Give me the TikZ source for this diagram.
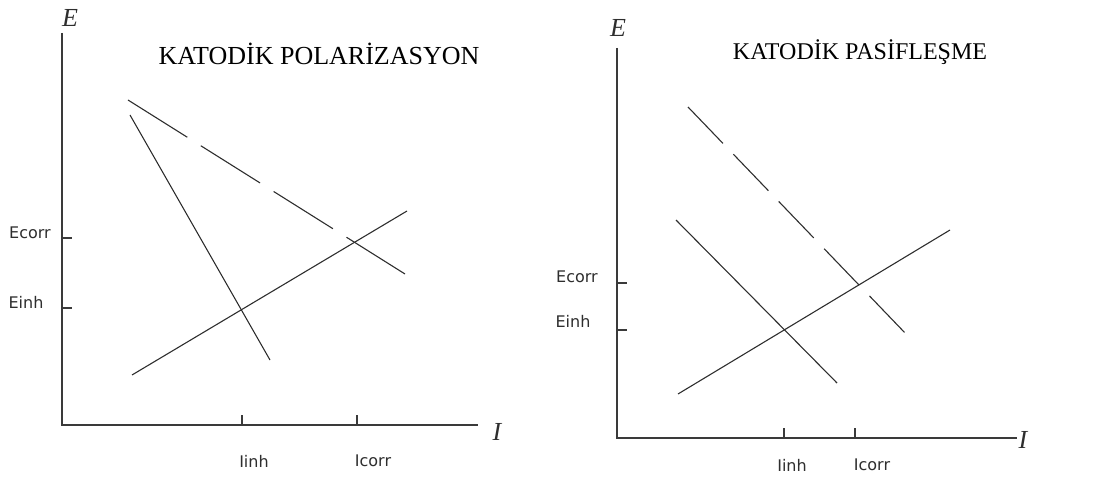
\documentclass[tikz,border=0pt]{standalone}
\usepackage{fontspec}
\setmainfont{Liberation Serif}
\newfontfamily\ticklabelfont{DejaVu Sans}
\usepackage{xcolor}
\usetikzlibrary{positioning}
\definecolor{pencil}{HTML}{2E2E2E}
\definecolor{axisgrey}{HTML}{3A3A3A}

\begin{document}
\begin{tikzpicture}[
  x=1pt, y=-1pt,
  every node/.style={text=black},
  axisline/.style={draw=axisgrey, line width=1.4pt},
  tickmark/.style={draw=axisgrey, line width=1.1pt},
  curve/.style={draw=pencil, line width=1.1pt},
  polcurve/.style={draw=pencil, line width=1.1pt, dash pattern=on 70pt off 16pt},
  pascurve/.style={draw=pencil, line width=1.1pt, dash pattern=on 50.5pt off 15pt},
  plottitle/.style={font=\fontsize{24}{28}\selectfont, inner sep=0pt},
  axislabel/.style={font=\fontsize{26}{30}\selectfont\itshape, text=pencil, inner sep=0pt},
  ticklabel/.style={font=\ticklabelfont\fontsize{16}{18}\selectfont, text=pencil, inner sep=0pt},
]
  \useasboundingbox (0,0) rectangle (1109,486);

  % left panel: cathodic polarisation
  \coordinate (lorigin) at (62,425);
  \coordinate (ltop) at (62,33);
  \coordinate (lend) at (478,425);
  \draw[axisline] (ltop) -- (lorigin) -- (lend);
  \node[axislabel] (lE) at (70,18) {E};
  \node[axislabel] (lI) at (497,432) {I};
  \node[plottitle, font=\fontsize{26}{30}\selectfont] (ltitle) at (319,54) {KATODİK POLARİZASYON};

  \coordinate (lEcorr) at (62,238);
  \coordinate (lEinh) at (62,308);
  \coordinate (lIinh) at (242,425);
  \coordinate (lIcorr) at (357,425);
  \draw[tickmark] (lEcorr) -- ++(10,0);
  \draw[tickmark] (lEinh) -- ++(10,0);
  \draw[tickmark] (lIinh) -- ++(0,-10);
  \draw[tickmark] (lIcorr) -- ++(0,-10);
  \node[ticklabel] (lEcorrlab) at (30,233) {Ecorr};
  \node[ticklabel] (lEinhlab) at (26,302) {Einh};
  \node[ticklabel] (lIinhlab) at (254,461) {Iinh};
  \node[ticklabel] (lIcorrlab) at (373,461) {Icorr};

  \coordinate (lanodeA) at (132,375);
  \coordinate (lanodeB) at (407,211);
  \coordinate (lcathA) at (128,100);
  \coordinate (lcathB) at (405,274);
  \coordinate (linhA) at (130,115);
  \coordinate (linhB) at (270,360);
  \draw[curve] (lanodeA) -- (lanodeB);
  \draw[polcurve] (lcathA) -- (lcathB);
  \draw[curve] (linhA) -- (linhB);

  % right panel: cathodic passivation
  \coordinate (rorigin) at (617,438);
  \coordinate (rtop) at (617,48);
  \coordinate (rend) at (1017,438);
  \draw[axisline] (rtop) -- (rorigin) -- (rend);
  \node[axislabel] (rE) at (618,28) {E};
  \node[axislabel] (rI) at (1023,440) {I};
  \node[plottitle] (rtitle) at (860,52) {KATODİK PASİFLEŞME};

  \coordinate (rEcorr) at (617,283);
  \coordinate (rEinh) at (617,330);
  \coordinate (rIinh) at (784,438);
  \coordinate (rIcorr) at (855,438);
  \draw[tickmark] (rEcorr) -- ++(10,0);
  \draw[tickmark] (rEinh) -- ++(10,0);
  \draw[tickmark] (rIinh) -- ++(0,-10);
  \draw[tickmark] (rIcorr) -- ++(0,-10);
  \node[ticklabel] (rEcorrlab) at (577,277) {Ecorr};
  \node[ticklabel] (rEinhlab) at (573,321) {Einh};
  \node[ticklabel] (rIinhlab) at (792,465) {Iinh};
  \node[ticklabel] (rIcorrlab) at (872,465) {Icorr};

  \coordinate (ranodeA) at (678,394);
  \coordinate (ranodeB) at (950,230);
  \coordinate (rcathA) at (688,107);
  \coordinate (rcathB) at (907,335);
  \coordinate (rinhA) at (676,220);
  \coordinate (rinhB) at (837,383);
  \draw[curve] (ranodeA) -- (ranodeB);
  \draw[pascurve] (rcathA) -- (rcathB);
  \draw[curve] (rinhA) -- (rinhB);
\end{tikzpicture}
\end{document}
